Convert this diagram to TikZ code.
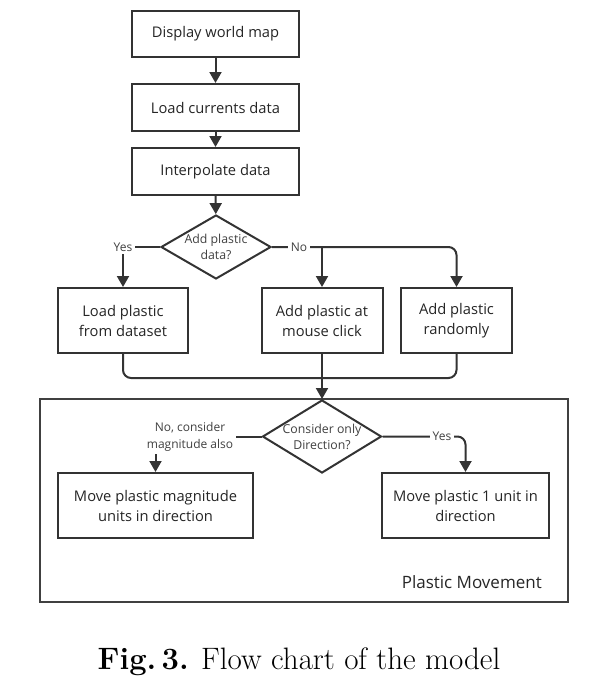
\documentclass[tikz,border=0pt]{standalone}
\usepackage{fontspec}
\newfontfamily\osans{Open Sans}
\usetikzlibrary{arrows.meta,shapes.geometric}
\definecolor{ln}{HTML}{333333}
\definecolor{tx}{HTML}{262626}
\definecolor{lb}{HTML}{404040}
\begin{document}
\begin{tikzpicture}[x=1pt,y=-1pt,
  box/.style={draw=ln, line width=2pt, fill=white, font=\osans\fontsize{14.7}{20}\selectfont, text=tx, align=center, inner sep=0pt},
  dia/.style={draw=ln, line width=2pt, diamond, inner sep=0pt},
  dtext/.style={font=\osans\fontsize{12.3}{16}\selectfont, text=lb, align=center, inner sep=0pt},
  lbl/.style={font=\osans\fontsize{12}{17}\selectfont, text=lb, align=center, fill=white, inner sep=2.5pt},
  arr/.style={draw=ln, line width=2pt, -{Triangle[width=12pt,length=11pt]}},
  con/.style={draw=ln, line width=2pt},
]
\useasboundingbox (0,0) rectangle (609,685);

% outer frame
\node[draw=lb, line width=2pt, minimum width=528pt, minimum height=203pt, inner sep=0pt] (frame) at (304,500.5) {};
\node[font=\osans\fontsize{17}{20}\selectfont, text=tx, anchor=east, inner sep=0pt] (pm) at (542,582) {Plastic Movement};

% top chain
\node[box, minimum width=167pt, minimum height=46pt] (b1) at (215.5,34) {Display world map};
\node[box, minimum width=167pt, minimum height=47pt] (b2) at (215.5,107.5) {Load currents data};
\node[box, minimum width=167pt, minimum height=47pt] (b3) at (215.5,171.5) {Interpolate data};

\node[dia, minimum width=110pt, minimum height=64pt] (d1) at (216,247) {};
\node[dtext] (d1t) at (d1.center) {Add plastic\\data?};

\node[box, minimum width=130pt, minimum height=65pt] (load) at (123,320.5) {Load plastic\\from dataset};
\node[box, minimum width=121pt, minimum height=65pt] (mouse) at (322,320.5) {Add plastic at\\mouse click};
\node[box, minimum width=111pt, minimum height=65pt] (rand) at (456.5,320.5) {Add plastic\\randomly};

\node[dia, fill=white, minimum width=119pt, minimum height=73pt] (d2) at (322,436.5) {};
\node[dtext] (d2t) at (d2.center) {Consider only\\Direction?};

\node[box, minimum width=195pt, minimum height=65pt] (m1) at (155.5,505.5) {Move plastic magnitude\\units in direction};
\node[box, minimum width=167pt, minimum height=65pt] (m2) at (465.5,505.5) {Move plastic 1 unit in\\direction};

\coordinate (merge) at (322,378);

% connectors
\draw[arr] (b1) -- (b2);
\draw[arr] (b2) -- (b3);
\draw[arr] (b3) -- (d1);

\draw[arr] (d1.west) -| (load.north) node[lbl, pos=0.5] (yes1) {Yes};
\draw[arr, rounded corners=8pt] (d1.east) -| (rand.north);
\draw[arr] (d1.east) -| (mouse.north);
\node[lbl] (no1) at (299,247) {No};

\draw[con, rounded corners=8pt] (load.south) |- (merge) -| (rand.south);
\draw[arr] (mouse.south) -- (d2.north);

\draw[arr] (d2.west) -| (m1.north);
\node[lbl] (no2) at (190,437) {No, consider\\magnitude also};
\draw[arr, rounded corners=8pt] (d2.east) -| (m2.north);
\node[lbl] (yes2) at (442,436.5) {Yes};

% caption
\node[font=\fontsize{31}{34}\selectfont, inner sep=0pt] (cap) at (299,662) {\textbf{Fig.\,3.} Flow chart of the model};
\end{tikzpicture}
\end{document}
